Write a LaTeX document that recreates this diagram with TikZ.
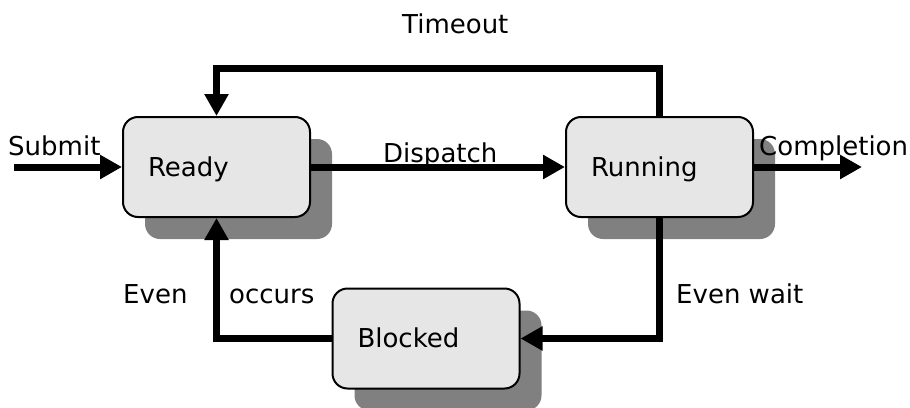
\documentclass[tikz,border=0pt]{standalone}
\usepackage{fontspec}
\setmainfont{DejaVu Sans}
\usetikzlibrary{arrows.meta,shadows}
\definecolor{boxgray}{RGB}{230,230,230}
\definecolor{shadowgray}{RGB}{128,128,128}
\begin{document}
\begin{tikzpicture}[x=1pt,y=-1pt,
  state/.style={draw=black,line width=2pt,fill=boxgray,rounded corners=15pt,
    minimum height=100pt,text width=137pt,inner xsep=25pt,inner ysep=0pt,
    text height=20pt,text depth=2pt,align=left,
    font=\fontsize{26}{30}\selectfont,
    drop shadow={shadow xshift=22pt,shadow yshift=-22pt,fill=shadowgray,opacity=1}},
  conn/.style={line width=7pt,-{Triangle[length=22pt,width=23pt]}},
  lbl/.style={inner sep=0pt,anchor=base west,font=\fontsize{26}{30}\selectfont}]
\useasboundingbox (0,0) rectangle (910,407);
\node[state] (ready) at (216.5,167) {Ready};
\node[state] (running) at (659.5,167) {Running};
\node[state] (blocked) at (426,338.5) {Blocked};
\coordinate (sub) at (14,167);
\coordinate (done) at (862,167);
\coordinate (top) at (440,68);
\draw[conn] (sub) -- (ready.west);
\draw[conn] (ready.east) -- (running.west);
\draw[conn] (running.east) -- (done);
\draw[conn] (running.north) |- (top) -| (ready.north);
\draw[conn] (running.south) |- (blocked.east);
\draw[conn] (blocked.west) -| (ready.south);
\node[lbl] (lsubmit) at (8,155) {Submit};
\node[lbl] (ldispatch) at (383,162) {Dispatch};
\node[lbl] (lcompletion) at (759,155) {Completion};
\node[lbl] (ltimeout) at (402,33) {Timeout};
\node[lbl] (leven) at (123,303) {Even};
\node[lbl] (loccurs) at (229,303) {occurs};
\node[lbl] (lwait) at (676,303) {Even wait};
\end{tikzpicture}
\end{document}
